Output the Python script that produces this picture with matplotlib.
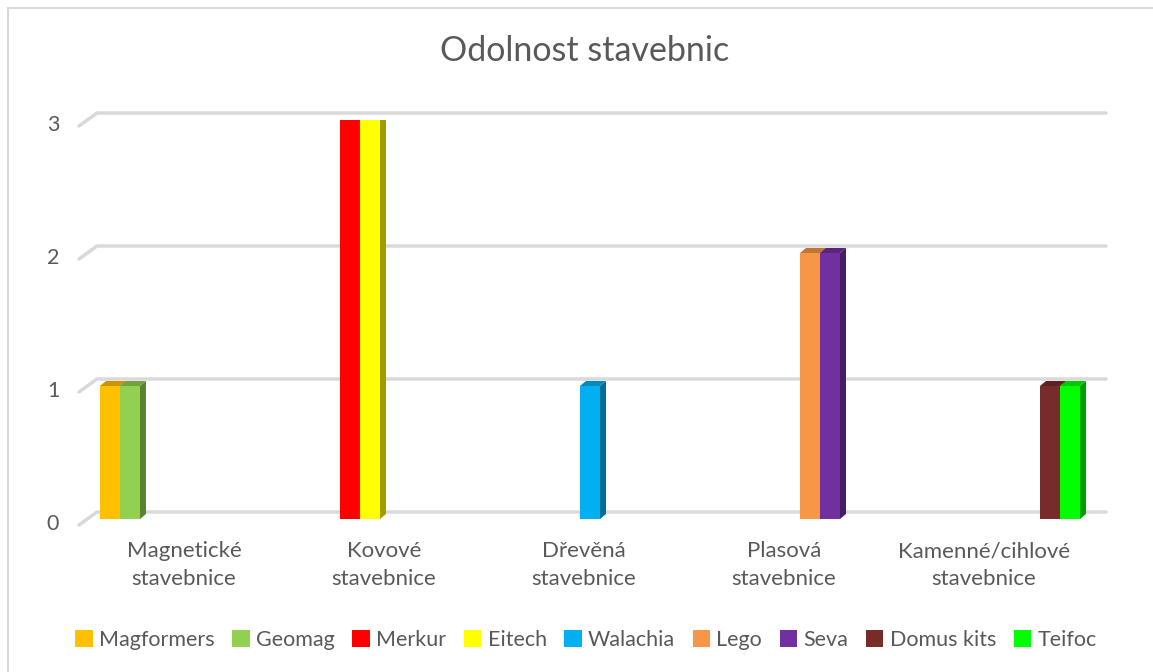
import matplotlib.pyplot as plt
from matplotlib.patches import Polygon, Patch
from matplotlib.lines import Line2D
import numpy as np

plt.rcParams['font.family'] = ['Lato', 'DejaVu Sans']

# data
categories = ['Magnetické\nstavebnice', 'Kovové\nstavebnice', 'Dřevěná\nstavebnice',
              'Plasová\nstavebnice', 'Kamenné/cihlové\nstavebnice']
series = ['Magformers', 'Geomag', 'Merkur', 'Eitech', 'Walachia',
          'Lego', 'Seva', 'Domus kits', 'Teifoc']
values = [
    [1, 0, 0, 0, 0],  # Magformers
    [1, 0, 0, 0, 0],  # Geomag
    [0, 3, 0, 0, 0],  # Merkur
    [0, 3, 0, 0, 0],  # Eitech
    [0, 0, 1, 0, 0],  # Walachia
    [0, 0, 0, 2, 0],  # Lego
    [0, 0, 0, 2, 0],  # Seva
    [0, 0, 0, 0, 1],  # Domus kits
    [0, 0, 0, 0, 1],  # Teifoc
]
colors = ['#FFC000', '#92D050', '#FF0000', '#FFFF00', '#00B0F0',
          '#F79646', '#7030A0', '#772C2A', '#00FF00']
yticks = [0, 1, 2, 3]

W, H = 1153, 672
fig = plt.figure(figsize=(W / 100, H / 100), dpi=100)
ax = fig.add_axes([90 / W, (H - 519) / H, 1000 / W, 399 / H])
ax.set_xlim(-0.5, 4.5)
ax.set_ylim(0, 3)
ax.axis('off')

# pixel -> data units
px = 5 / 1000
py = 3 / 399

text_col = '#595959'
grid_col = '#D9D9D9'


def shade(c, f):
    r, g, b = [int(c[i:i + 2], 16) / 255 for i in (1, 3, 5)]
    return (r * f, g * f, b * f)


# gridlines on the back wall with a slanted lead-in
for v in yticks:
    ax.plot([-0.5 - 11 * px, -0.5 + 7 * px, 4.5 + 16 * px],
            [v - 6 * py, v + 7 * py, v + 7 * py],
            color=grid_col, lw=2.5, clip_on=False, zorder=1,
            solid_capstyle='round')
    ax.text(-0.5 - 37 * px, v - 5 * py, str(v), ha='center', va='center',
            fontsize=15.5, color=text_col)

# bars with fake 3d faces
x = np.arange(len(categories))
bw = 0.1
dx, dy = 6 * px, 5 * py
for j, (name, vals, col) in enumerate(zip(series, values, colors)):
    xs = x - 0.4 + bw * j
    bars = ax.bar(xs, vals, width=bw, color=col, zorder=3, linewidth=0)
    for b in bars:
        h = b.get_height()
        if h <= 0:
            continue
        x0 = b.get_x()
        x1 = x0 + b.get_width()
        side = Polygon([(x1, 0), (x1 + dx, dy), (x1 + dx, h + dy), (x1, h)],
                       closed=True, facecolor=shade(col, 0.62), lw=0, zorder=2)
        top = Polygon([(x0, h), (x0 + dx, h + dy), (x1 + dx, h + dy), (x1, h)],
                      closed=True, facecolor=shade(col, 0.78), lw=0, zorder=2)
        ax.add_patch(side)
        ax.add_patch(top)

# category labels
for i, lab in enumerate(categories):
    ax.text(i - 6 * px, -22 * py, lab, ha='center', va='top', fontsize=16,
            color=text_col, linespacing=1.5, clip_on=False)

fig.text(585 / W, 1 - 51 / H, 'Odolnost stavebnic', ha='center', va='center',
         fontsize=24.5, color=text_col)

handles = [Patch(facecolor=c, edgecolor='none') for c in colors]
fig.legend(handles, series, loc='center', bbox_to_anchor=(586 / W, 1 - 640 / H),
           ncol=len(series), frameon=False, fontsize=15.5, handlelength=0.8,
           handleheight=0.8, handletextpad=0.3, columnspacing=0.82,
           labelcolor=text_col)

# chart border
fig.add_artist(Line2D([7.5 / W, 7.5 / W], [0, 1 - 7.5 / H], color=grid_col, lw=1.5,
                      transform=fig.transFigure))
fig.add_artist(Line2D([7.5 / W, 1], [1 - 7.5 / H, 1 - 7.5 / H], color=grid_col, lw=1.5,
                      transform=fig.transFigure))

fig.savefig('out.png', dpi=100)
